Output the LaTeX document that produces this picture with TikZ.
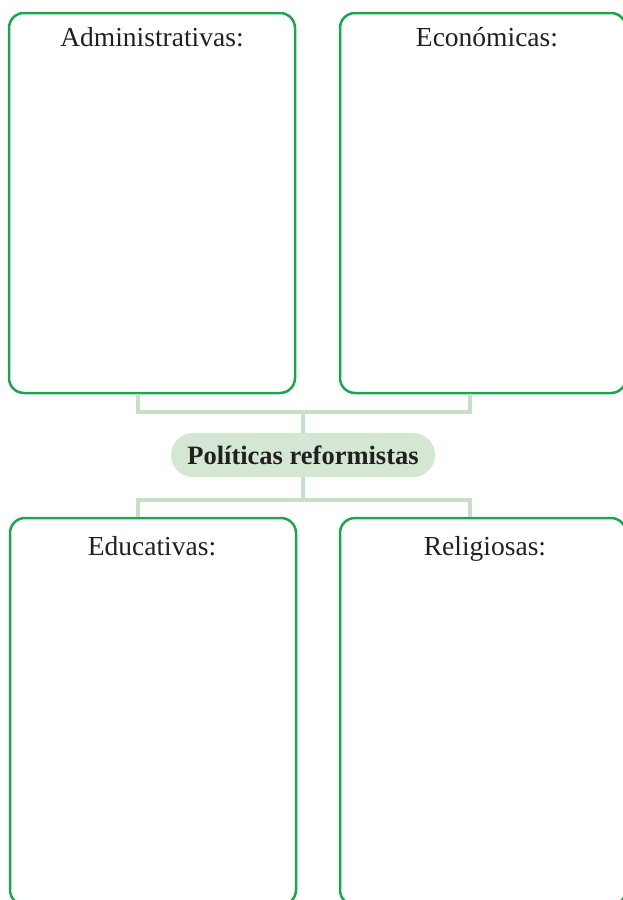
\documentclass[tikz,border=0pt]{standalone}
\usepackage{fontspec}
\setmainfont{Liberation Serif}
\definecolor{boxgreen}{HTML}{1CA54E}
\definecolor{connlight}{HTML}{C8E0C8}
\definecolor{pillfill}{HTML}{D3E7D3}
\definecolor{ink}{HTML}{231F20}
\tikzset{
  panel/.style={draw=boxgreen, line width=2.5pt, rounded corners=15pt, minimum width=286pt, inner sep=0pt},
  title/.style={text=ink, font=\fontsize{27.5}{30}\selectfont, anchor=base, inner sep=0pt},
  conn/.style={draw=connlight, line width=3.6pt},
  pill/.style={fill=pillfill, rounded corners=22pt, minimum width=264pt, minimum height=44pt, inner sep=0pt, text=ink, font=\fontsize{26.5}{29}\selectfont\bfseries}
}
\begin{document}
\begin{tikzpicture}[x=1pt,y=-1pt]
\useasboundingbox (0,0) rectangle (623,900);
\clip (0,0) rectangle (623,900);
\coordinate (j1) at (303,412);
\coordinate (j2) at (303,500);
\node[panel, minimum height=380pt] (tl) at (152,203) {};
\node[panel, minimum height=380pt] (tr) at (483,203) {};
\node[panel, minimum height=387pt] (bl) at (153,711.5) {};
\node[panel, minimum height=387pt] (br) at (483,711.5) {};
\node[pill] (p) at (303,455) {Políticas reformistas};
\draw[conn] ([xshift=-14pt]tl.south) |- (j1) -| ([xshift=-13pt]tr.south);
\draw[conn] (j1) -- (p.north);
\draw[conn] ([xshift=-15pt]bl.north) |- (j2) -| ([xshift=-13pt]br.north);
\draw[conn] (j2) -- (p.south);
\node[title] (t1) at (152,46) {Administrativas:};
\node[title] (t2) at (487,46) {Económicas:};
\node[title] (t3) at (152,555) {Educativas:};
\node[title] (t4) at (485,555) {Religiosas:};
\end{tikzpicture}
\end{document}
